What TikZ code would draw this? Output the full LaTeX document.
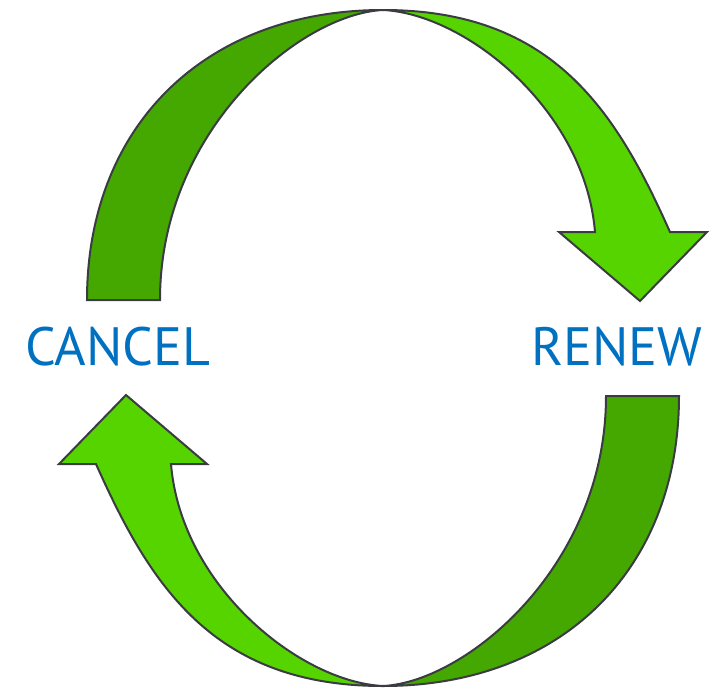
\documentclass[tikz,border=0pt]{standalone}
\usepackage{fontspec}
\setmainfont{PT Sans}
\definecolor{darkleaf}{RGB}{68,168,0}
\definecolor{lightleaf}{RGB}{85,212,0}
\definecolor{edgegray}{RGB}{58,60,66}
\definecolor{labelblue}{RGB}{0,112,192}
\begin{document}
\begin{tikzpicture}[x=1pt,y=-1pt,
  darkpiece/.style={fill=darkleaf,draw=edgegray,line width=2pt,line join=miter},
  lightpiece/.style={fill=lightleaf,draw=edgegray,line width=2pt,line join=miter},
  lbl/.style={text=labelblue,font=\fontsize{54}{60}\selectfont,inner sep=0pt,anchor=center}]
\useasboundingbox (0,0) rectangle (718,691);
\begin{scope}
  \path[darkpiece] (87,300) .. controls (87,126) and (205,10) .. (383,10)
     .. controls (300,14) and (160,130) .. (160,300) -- cycle;
  \path[lightpiece] (383,10) .. controls (553,10) and (616,111) .. (670,232)
     -- (707,232) -- (640,301) -- (559,232) -- (595,232)
     .. controls (585,110) and (466,14) .. (383,10) -- cycle;
\end{scope}
\begin{scope}[rotate around={180:(383,348)}]
  \path[darkpiece] (87,300) .. controls (87,126) and (205,10) .. (383,10)
     .. controls (300,14) and (160,130) .. (160,300) -- cycle;
  \path[lightpiece] (383,10) .. controls (553,10) and (616,111) .. (670,232)
     -- (707,232) -- (640,301) -- (559,232) -- (595,232)
     .. controls (585,110) and (466,14) .. (383,10) -- cycle;
\end{scope}
\node[lbl] (cancel) at (118,347) {CANCEL};
\node[lbl] (renew) at (617,347) {RENEW};
\end{tikzpicture}
\end{document}
